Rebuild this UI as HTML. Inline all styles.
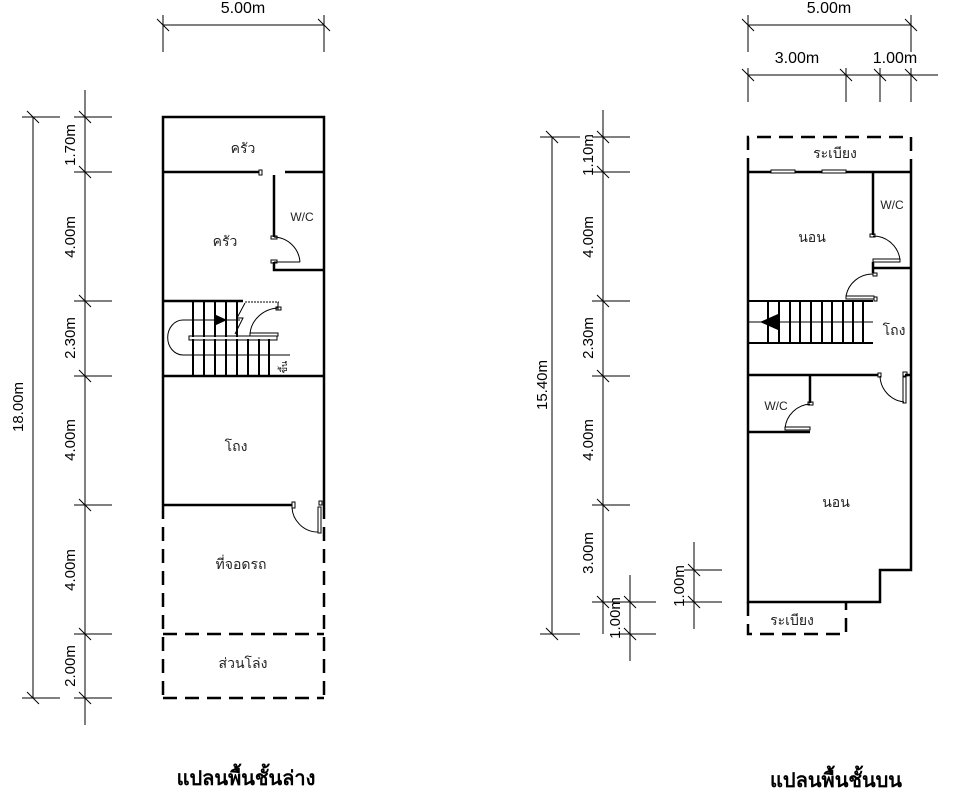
<!DOCTYPE html>
<html><head><meta charset="utf-8"><style>
html,body{margin:0;padding:0;background:#fff;}
svg{display:block}
text{font-family:"Liberation Sans","DejaVu Sans",sans-serif;}
</style></head><body>
<svg width="967" height="805" viewBox="0 0 967 805" xmlns="http://www.w3.org/2000/svg">
<defs>
<g id="tk"><line x1="-6" y1="-6" x2="6" y2="6" stroke="#000" stroke-width="1"/></g>
</defs>
<g stroke="#000" fill="none">
<line x1="163" y1="25" x2="324" y2="25" stroke-width="1"/>
<line x1="163" y1="15" x2="163" y2="52" stroke-width="1"/>
<line x1="324" y1="15" x2="324" y2="52" stroke-width="1"/>
<use href="#tk" x="163" y="25"/><use href="#tk" x="324" y="25"/>
<line x1="33" y1="117" x2="33" y2="698" stroke-width="1"/>
<line x1="22" y1="117" x2="60" y2="117"/><line x1="22" y1="698" x2="60" y2="698"/>
<use href="#tk" x="33" y="117"/><use href="#tk" x="33" y="698"/>
<line x1="85" y1="90" x2="85" y2="725"/>
<g>
<line x1="74" y1="117" x2="112" y2="117"/><use href="#tk" x="85" y="117"/>
<line x1="74" y1="172" x2="112" y2="172"/><use href="#tk" x="85" y="172"/>
<line x1="74" y1="301" x2="112" y2="301"/><use href="#tk" x="85" y="301"/>
<line x1="74" y1="376" x2="112" y2="376"/><use href="#tk" x="85" y="376"/>
<line x1="74" y1="505" x2="112" y2="505"/><use href="#tk" x="85" y="505"/>
<line x1="74" y1="634" x2="112" y2="634"/><use href="#tk" x="85" y="634"/>
<line x1="74" y1="698" x2="112" y2="698"/><use href="#tk" x="85" y="698"/>
</g>
<g stroke-width="2.5">
<polyline points="163,505 163,117 324,117 324,505"/>
<line x1="163" y1="172" x2="259" y2="172"/>
<line x1="285" y1="172" x2="324" y2="172"/>
<line x1="274" y1="175" x2="274" y2="237"/>
<polyline points="274,262 274,270 324,270"/>
<line x1="163" y1="301" x2="243" y2="301"/>
<line x1="163" y1="376" x2="324" y2="376"/>
<line x1="163" y1="505" x2="292" y2="505"/>
</g>
<g stroke-width="2.5" stroke-dasharray="14,8">
<line x1="163" y1="505" x2="163" y2="698"/>
<line x1="324" y1="505" x2="324" y2="698"/>
<line x1="163" y1="698" x2="324" y2="698"/>
<line x1="163" y1="634" x2="324" y2="634"/>
</g>
<rect x="259" y="170" width="3" height="5" stroke-width="1"/>
<path d="M274,237 A27,27 0 0 1 300,262" stroke-width="1"/>
<rect x="271" y="236" width="6" height="3" stroke-width="1"/>
<rect x="271" y="260" width="6" height="3" stroke-width="1"/>
<line x1="274" y1="262" x2="300" y2="262" stroke-width="1"/>
<path d="M292,505 A26,26 0 0 0 318,532" stroke-width="1"/>
<rect x="292" y="502" width="3" height="6" stroke-width="1"/>
<rect x="318" y="507" width="3" height="26" stroke-width="1"/>
<rect x="319" y="501" width="3" height="4" stroke-width="1"/>
<g stroke-width="2">
<line x1="193" y1="301" x2="193" y2="337"/><line x1="204" y1="301" x2="204" y2="337"/><line x1="215" y1="301" x2="215" y2="337"/><line x1="226" y1="301" x2="226" y2="337"/><line x1="237" y1="301" x2="237" y2="337"/>
<line x1="193" y1="339" x2="193" y2="376"/><line x1="204" y1="339" x2="204" y2="376"/><line x1="215" y1="339" x2="215" y2="376"/><line x1="226" y1="339" x2="226" y2="376"/><line x1="237" y1="339" x2="237" y2="376"/><line x1="248" y1="339" x2="248" y2="376"/><line x1="259" y1="339" x2="259" y2="376"/><line x1="269" y1="339" x2="269" y2="376"/>
</g>
<rect x="189" y="336" width="88" height="4" stroke-width="1"/>
<path d="M193,320 L183,320 A14,16 0 0 0 183,355 L193,355" stroke-width="1"/>
<line x1="193" y1="320" x2="240" y2="320" stroke-width="1"/>
<line x1="193" y1="355" x2="290" y2="355" stroke-width="1"/>
<polygon points="214,314 214,326 227,320" fill="#000" stroke="none"/>
<path d="M245,303 L237,318 L243,318 L235,334" stroke-width="1"/>
<line x1="245" y1="302" x2="279" y2="302" stroke-width="1" stroke-dasharray="2,1"/>
<line x1="278" y1="302" x2="278" y2="310" stroke-width="1"/>
<path d="M278,308 A30,28 0 0 0 250,334" stroke-width="1"/>
<rect x="276" y="307" width="5" height="3" stroke-width="1"/>
<rect x="250" y="333" width="28" height="3" stroke-width="1"/>
<line x1="748" y1="25" x2="911" y2="25"/>
<line x1="748" y1="15" x2="748" y2="52"/><line x1="911" y1="15" x2="911" y2="52"/>
<use href="#tk" x="748" y="25"/><use href="#tk" x="911" y="25"/>
<line x1="748" y1="75" x2="938" y2="75"/>
<line x1="748" y1="68" x2="748" y2="102"/><line x1="846" y1="68" x2="846" y2="102"/><line x1="880" y1="68" x2="880" y2="102"/><line x1="911" y1="68" x2="911" y2="102"/>
<use href="#tk" x="748" y="75"/><use href="#tk" x="846" y="75"/><use href="#tk" x="880" y="75"/><use href="#tk" x="911" y="75"/>
<line x1="552" y1="137" x2="552" y2="634"/>
<line x1="540" y1="137" x2="580" y2="137"/><line x1="540" y1="634" x2="580" y2="634"/>
<use href="#tk" x="552" y="137"/><use href="#tk" x="552" y="634"/>
<line x1="603" y1="110" x2="603" y2="634"/>
<g>
<line x1="592" y1="137" x2="630" y2="137"/><use href="#tk" x="603" y="137"/>
<line x1="592" y1="172" x2="630" y2="172"/><use href="#tk" x="603" y="172"/>
<line x1="592" y1="301" x2="630" y2="301"/><use href="#tk" x="603" y="301"/>
<line x1="592" y1="376" x2="630" y2="376"/><use href="#tk" x="603" y="376"/>
<line x1="592" y1="505" x2="630" y2="505"/><use href="#tk" x="603" y="505"/>
<line x1="592" y1="602" x2="656" y2="602"/><use href="#tk" x="603" y="602"/>
</g>
<line x1="630" y1="575" x2="630" y2="661"/>
<line x1="618" y1="634" x2="656" y2="634"/>
<use href="#tk" x="630" y="602"/><use href="#tk" x="630" y="634"/>
<line x1="694" y1="542" x2="694" y2="629"/>
<line x1="684" y1="570" x2="722" y2="570"/><line x1="684" y1="602" x2="722" y2="602"/>
<use href="#tk" x="694" y="570"/><use href="#tk" x="694" y="602"/>
<g stroke-width="2.5">
<polyline points="911,172 911,570 880,570 880,602 748,602 748,172"/>
<line x1="748" y1="172" x2="771" y2="172"/>
<line x1="795" y1="172" x2="822" y2="172"/>
<line x1="846" y1="172" x2="911" y2="172"/>
<line x1="873" y1="172" x2="873" y2="235"/>
<line x1="873" y1="268" x2="911" y2="268"/>
<line x1="873" y1="262" x2="873" y2="273"/>
<line x1="748" y1="375" x2="878" y2="375"/>
<line x1="905" y1="375" x2="911" y2="375"/>
<line x1="810" y1="375" x2="810" y2="403"/>
<line x1="748" y1="432" x2="810" y2="432"/>
</g>
<g stroke-width="2.5" stroke-dasharray="14,8">
<polyline points="748,172 748,137 911,137 911,172"/>
<polyline points="748,602 748,634 846,634 846,602"/>
</g>
<rect x="771" y="170" width="24" height="3" stroke-width="1"/>
<rect x="822" y="170" width="24" height="3" stroke-width="1"/>
<rect x="870" y="234" width="5" height="3" stroke-width="1"/>
<path d="M873,236 A27,27 0 0 1 900,260" stroke-width="1"/>
<rect x="873" y="259" width="27" height="3" stroke-width="1"/>
<rect x="873" y="273" width="4" height="3" stroke-width="1"/>
<path d="M873,274 A27,27 0 0 0 846,296" stroke-width="1"/>
<rect x="846" y="296" width="28" height="3" stroke-width="1"/>
<rect x="874" y="297" width="3" height="4" stroke-width="1"/>
<rect x="878" y="373" width="3" height="4" stroke-width="1"/>
<path d="M880,376 A27,27 0 0 0 904,402" stroke-width="1"/>
<rect x="903" y="377" width="3" height="26" stroke-width="1"/>
<rect x="903" y="372" width="4" height="4" stroke-width="1"/>
<rect x="808" y="402" width="5" height="3" stroke-width="1"/>
<path d="M810,404 A27,27 0 0 0 785,428" stroke-width="1"/>
<rect x="785" y="427" width="25" height="3" stroke-width="1"/>
<g stroke-width="2">
<line x1="748" y1="301" x2="873" y2="301"/>
<line x1="748" y1="343" x2="873" y2="343"/>
<line x1="768" y1="301" x2="768" y2="343"/><line x1="779" y1="301" x2="779" y2="343"/><line x1="790" y1="301" x2="790" y2="343"/><line x1="800" y1="301" x2="800" y2="343"/><line x1="811" y1="301" x2="811" y2="343"/><line x1="822" y1="301" x2="822" y2="343"/><line x1="832" y1="301" x2="832" y2="343"/><line x1="843" y1="301" x2="843" y2="343"/><line x1="853" y1="301" x2="853" y2="343"/><line x1="863" y1="301" x2="863" y2="343"/>
</g>
<line x1="748" y1="322" x2="873" y2="322" stroke-width="1"/>
<polygon points="760,322 778,314 778,330" fill="#000" stroke="none"/>
</g>
<g font-size="15" fill="#000">
<text x="243" y="13" text-anchor="middle" font-size="16">5.00m</text>
<text x="829" y="13" text-anchor="middle" font-size="16">5.00m</text>
<text x="797" y="63" text-anchor="middle" font-size="16">3.00m</text>
<text x="895" y="63" text-anchor="middle" font-size="16">1.00m</text>
<text transform="translate(23,407) rotate(-90)" text-anchor="middle">18.00m</text>
<text transform="translate(547,385) rotate(-90)" text-anchor="middle">15.40m</text>
<g text-anchor="middle">
<text transform="translate(75,145) rotate(-90)">1.70m</text>
<text transform="translate(75,237) rotate(-90)">4.00m</text>
<text transform="translate(75,338) rotate(-90)">2.30m</text>
<text transform="translate(75,440) rotate(-90)">4.00m</text>
<text transform="translate(75,570) rotate(-90)">4.00m</text>
<text transform="translate(75,666) rotate(-90)">2.00m</text>
<text transform="translate(593,155) rotate(-90)">1.10m</text>
<text transform="translate(593,237) rotate(-90)">4.00m</text>
<text transform="translate(593,338) rotate(-90)">2.30m</text>
<text transform="translate(593,440) rotate(-90)">4.00m</text>
<text transform="translate(593,553) rotate(-90)">3.00m</text>
<text transform="translate(620,618) rotate(-90)">1.00m</text>
<text transform="translate(684,586) rotate(-90)">1.00m</text>
</g>
<g text-anchor="middle" font-size="14" fill="#222">
<text x="243" y="153">ครัว</text>
<text x="225" y="246">ครัว</text>
<text x="302" y="221" font-size="12">W/C</text>
<text x="236" y="451">โถง</text>
<text x="241" y="569">ที่จอดรถ</text>
<text x="243" y="668">ส่วนโล่ง</text>
<text x="835" y="158">ระเบียง</text>
<text x="812" y="242">นอน</text>
<text x="892" y="209" font-size="12">W/C</text>
<text x="894" y="335">โถง</text>
<text x="776" y="410" font-size="12">W/C</text>
<text x="836" y="507">นอน</text>
<text x="792" y="625">ระเบียง</text>
</g>
<text transform="translate(287,367) rotate(-90)" font-size="9" text-anchor="middle">ขึ้น</text>
<text x="246" y="785" text-anchor="middle" font-size="20" font-weight="bold">แปลนพื้นชั้นล่าง</text>
<text x="836" y="787" text-anchor="middle" font-size="20" font-weight="bold">แปลนพื้นชั้นบน</text>
</g>
</svg>
</body></html>
